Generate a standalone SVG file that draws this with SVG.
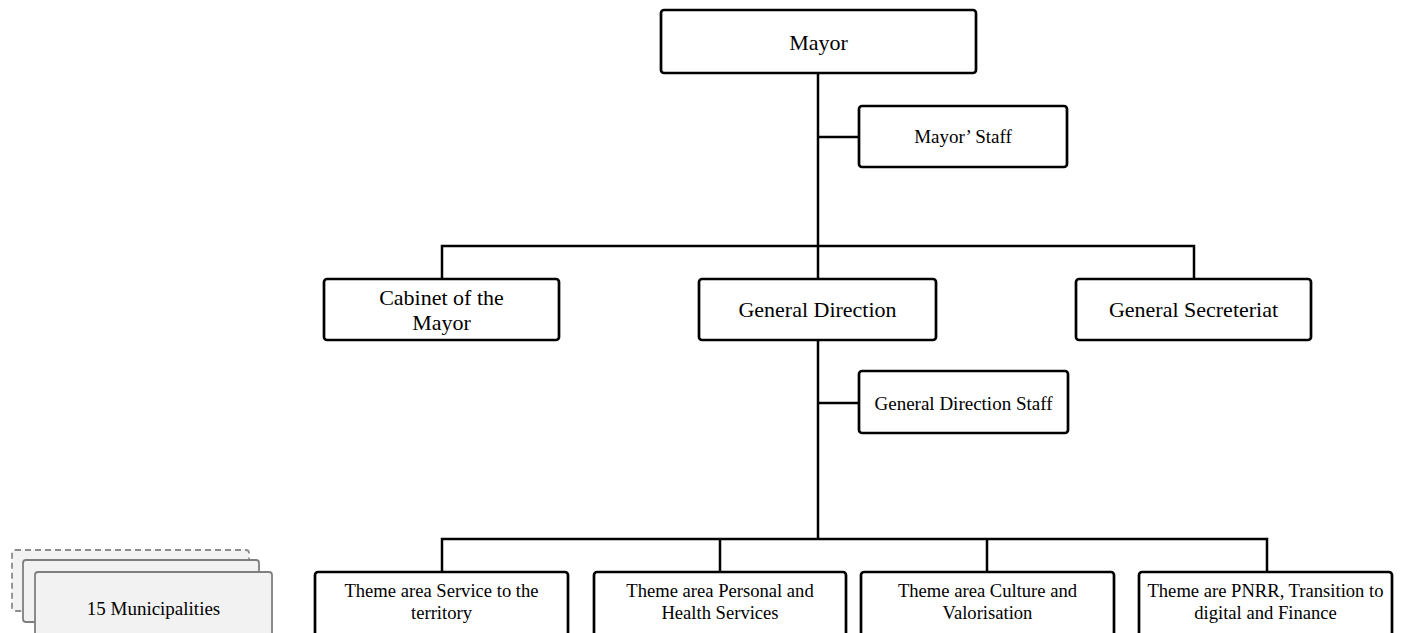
<svg xmlns="http://www.w3.org/2000/svg" width="1405" height="633" viewBox="0 0 1405 633">
<style>
.box{fill:#fff;stroke:#000;stroke-width:2.7}
.gbox{fill:#f2f2f2;stroke:#7f7f7f;stroke-width:1.8}
.dash{fill:#f2f2f2;stroke:#8c8c8c;stroke-width:1.8;stroke-dasharray:6 4}
.ln{fill:none;stroke:#000;stroke-width:2.5}
text{font-family:"Liberation Serif","Times New Roman",serif;fill:#000;text-anchor:middle}
.t22{font-size:22px}
.t19{font-size:19px}
.t18{font-size:18.6px}
</style>
<rect width="1405" height="633" fill="#fff"/>
<g id="connectors">
<path class="ln" d="M818 73 V246 M818 137 H859 M442 279 V246 H1194 V279 M818 246 V279"/>
<path class="ln" d="M818 340 V539 M818 403 H859 M442 572 V539 H1267 V572 M720 539 V572 M987 539 V572"/>
</g>
<g id="mayor"><rect class="box" x="661" y="10" width="315" height="63" rx="3"/><text class="t22" x="818.5" y="50">Mayor</text></g>
<g id="mayor-staff"><rect class="box" x="859" y="106" width="208" height="61" rx="3"/><text class="t19" x="963" y="143">Mayor’ Staff</text></g>
<g id="cabinet"><rect class="box" x="324" y="279" width="235" height="61" rx="3"/><text class="t22" x="441.5" y="305">Cabinet of the</text><text class="t22" x="441.5" y="330">Mayor</text></g>
<g id="general-direction"><rect class="box" x="699" y="279" width="237" height="61" rx="3"/><text class="t22" x="817.5" y="317">General Direction</text></g>
<g id="general-secreteriat"><rect class="box" x="1076" y="279" width="235" height="61" rx="3"/><text class="t22" x="1193.5" y="317">General Secreteriat</text></g>
<g id="gd-staff"><rect class="box" x="859" y="371" width="209" height="62" rx="3"/><text class="t19" x="963.5" y="410">General Direction Staff</text></g>
<g id="theme1"><rect class="box" x="315" y="572" width="253" height="80" rx="3"/><text class="t18" x="441.5" y="597">Theme area Service to the</text><text class="t18" x="441.5" y="619">territory</text></g>
<g id="theme2"><rect class="box" x="594" y="572" width="252" height="80" rx="3"/><text class="t18" x="720" y="597">Theme area Personal and</text><text class="t18" x="720" y="619">Health Services</text></g>
<g id="theme3"><rect class="box" x="861" y="572" width="253" height="80" rx="3"/><text class="t18" x="987.5" y="597">Theme area Culture and</text><text class="t18" x="987.5" y="619">Valorisation</text></g>
<g id="theme4"><rect class="box" x="1139" y="572" width="253" height="80" rx="3"/><text class="t18" x="1265.5" y="597">Theme are PNRR, Transition to</text><text class="t18" x="1265.5" y="619">digital and Finance</text></g>
<g id="municipalities">
<rect class="dash" x="12" y="550" width="237" height="61" rx="3"/>
<rect class="gbox" x="23" y="560" width="236" height="62" rx="3"/>
<rect class="gbox" x="35" y="572" width="237" height="80" rx="3"/>
<text class="t19" x="153.5" y="615">15 Municipalities</text>
</g>
</svg>
